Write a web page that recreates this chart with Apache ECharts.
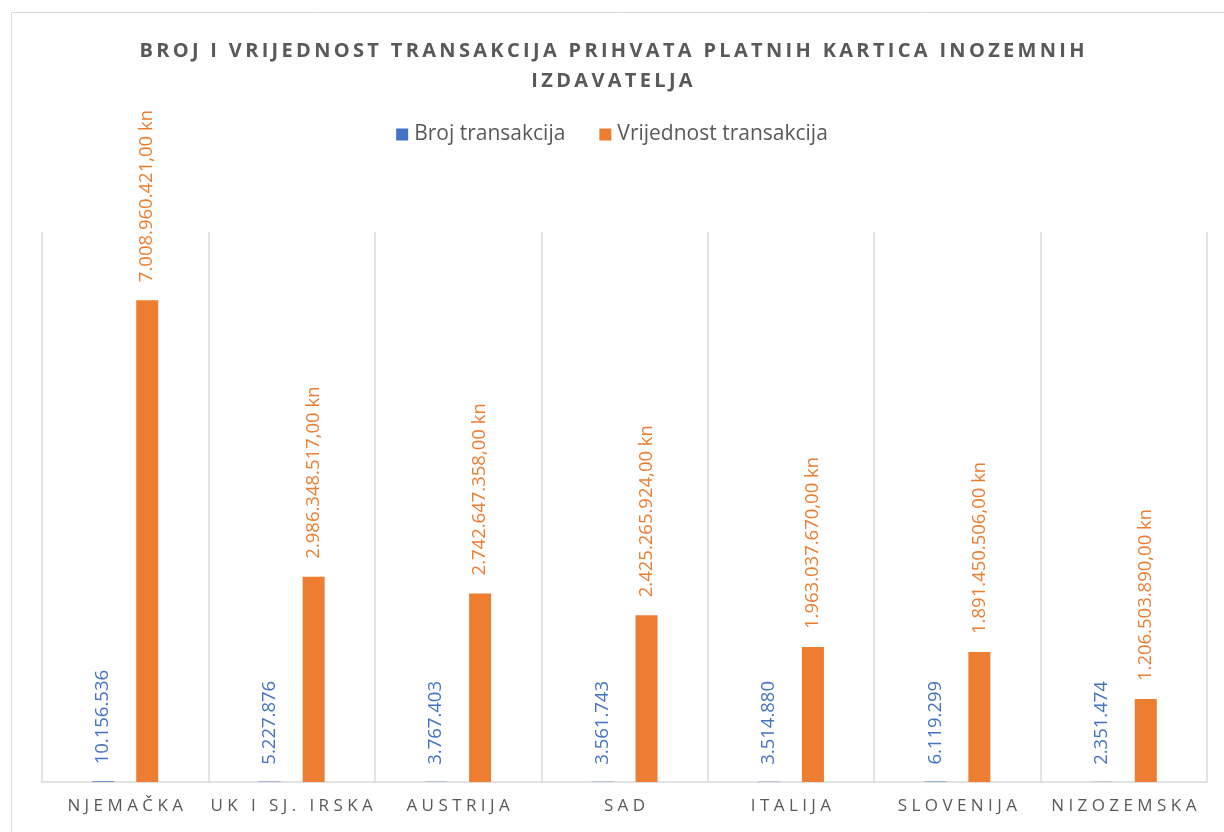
<!DOCTYPE html>
<html>
<head>
<meta charset="utf-8">
<script src="https://cdn.jsdelivr.net/npm/echarts@6/dist/echarts.min.js"></script>
<style>
  html, body { margin: 0; padding: 0; background: #fff; }
  #chart { width: 1224px; height: 832px; }
</style>
</head>
<body>
<div id="chart"></div>
<script>
const categories = ['NJEMAČKA', 'UK I SJ. IRSKA', 'AUSTRIJA', 'SAD', 'ITALIJA', 'SLOVENIJA', 'NIZOZEMSKA']
const brojTransakcija = [10156536, 5227876, 3767403, 3561743, 3514880, 6119299, 2351474]
const vrijednostTransakcija = [7008960421, 2986348517, 2742647358, 2425265924, 1963037670, 1891450506, 1206503890]

const titleText = 'BROJ I VRIJEDNOST TRANSAKCIJA PRIHVATA PLATNIH KARTICA INOZEMNIH\nIZDAVATELJA'

// spread letters out a bit, like the original letter-spaced text
const spaced = (s, gap) => s.split('\n').map(line => line.split('').join(gap)).join('\n')

const thousands = n => String(Math.round(n)).replace(/\B(?=(\d{3})+(?!\d))/g, '.')

const chart = echarts.init(document.getElementById('chart'))

const labelFont = 'Open Sans'

chart.setOption({
  backgroundColor: '#fff',
  animation: false,
  title: {
    text: spaced(titleText, '\u2009'),
    left: 'center',
    top: 31,
    textStyle: {
      fontFamily: labelFont,
      fontSize: 20,
      fontWeight: 'bold',
      color: '#595959',
      lineHeight: 30
    }
  },
  legend: {
    top: 119,
    left: 'center',
    icon: 'rect',
    itemWidth: 12,
    itemHeight: 12,
    itemGap: 34,
    itemStyle: { borderWidth: 0 },
    textStyle: { fontFamily: labelFont, fontSize: 21, color: '#595959', padding: [0, 0, 0, 1] }
  },
  graphic: [{
    type: 'rect',
    shape: { x: 11.5, y: 12.5, width: 1400, height: 1000 },
    style: { fill: 'none', stroke: '#d9d9d9', lineWidth: 1 },
    silent: true
  }],
  grid: { left: 42, right: 17, top: 232, bottom: 50 },
  xAxis: {
    type: 'category',
    data: categories,
    axisTick: { show: false },
    axisLine: { lineStyle: { color: '#d9d9d9', width: 1.5 } },
    splitLine: { show: true, interval: 0, lineStyle: { color: '#d9d9d9', width: 1.5 } },
    axisLabel: {
      interval: 0,
      margin: 16,
      fontFamily: labelFont,
      fontSize: 17,
      color: '#595959',
      formatter: v => spaced(v, ' ')
    }
  },
  yAxis: {
    type: 'value',
    min: 0,
    max: 8000000000,
    show: false,
    splitLine: { show: false }
  },
  series: [
    {
      name: 'Broj transakcija',
      type: 'bar',
      data: brojTransakcija,
      barWidth: 22,
      barGap: '100%',
      itemStyle: { color: '#4472C4' },
      label: {
        show: true,
        position: 'top',
        rotate: 90,
        align: 'left',
        verticalAlign: 'middle',
        distance: 17,
        fontFamily: labelFont,
        fontSize: 18.5,
        color: '#4472C4',
        formatter: p => thousands(p.value)
      }
    },
    {
      name: 'Vrijednost transakcija',
      type: 'bar',
      data: vrijednostTransakcija,
      barWidth: 22,
      itemStyle: { color: '#ED7D31' },
      label: {
        show: true,
        position: 'top',
        rotate: 90,
        align: 'left',
        verticalAlign: 'middle',
        distance: 18,
        fontFamily: labelFont,
        fontSize: 18.5,
        color: '#ED7D31',
        formatter: p => thousands(p.value) + ',00 kn'
      }
    }
  ]
})
</script>
</body>
</html>
